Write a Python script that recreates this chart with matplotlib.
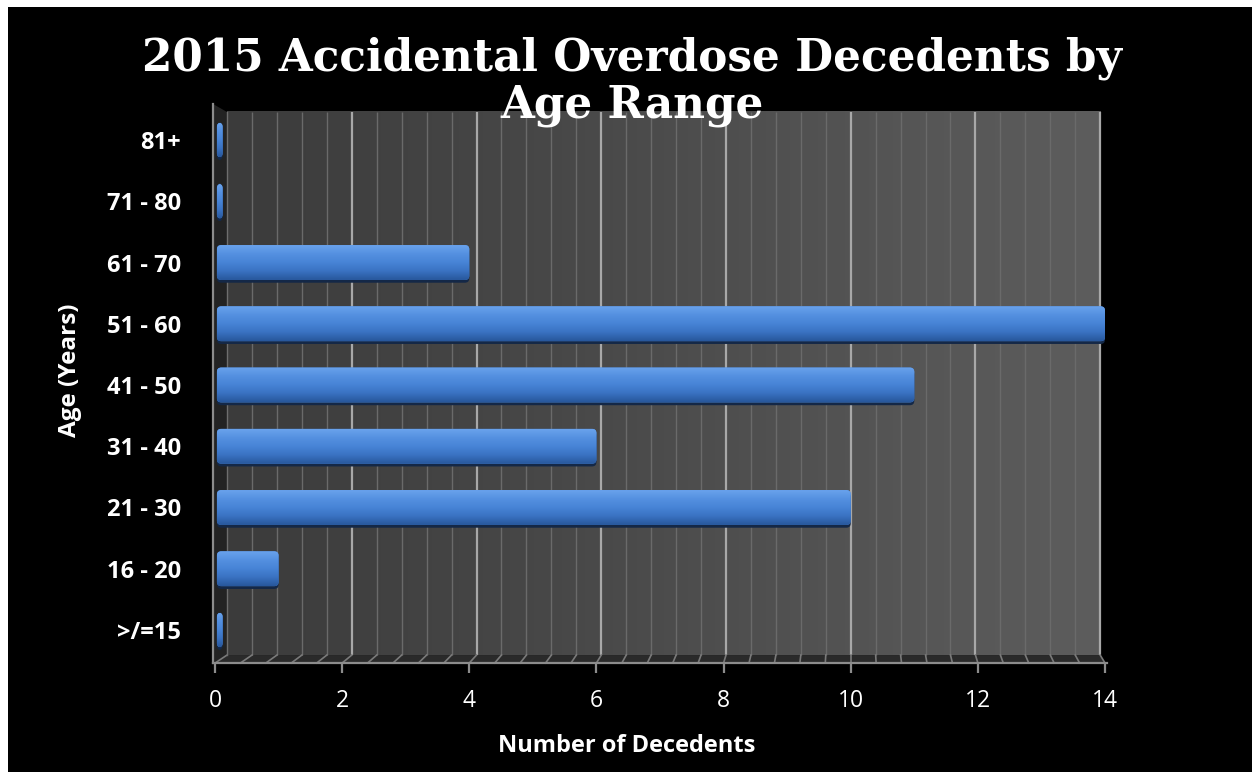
import numpy as np
import matplotlib
matplotlib.use("Agg")
import matplotlib.pyplot as plt
from matplotlib.patches import FancyBboxPatch, Polygon, Rectangle
from matplotlib.colors import LinearSegmentedColormap

age_ranges = [">/=15", "16 - 20", "21 - 30", "31 - 40", "41 - 50",
              "51 - 60", "61 - 70", "71 - 80", "81+"]
decedents = [0, 1, 10, 6, 11, 14, 4, 0, 0]
x_ticks = [0, 2, 4, 6, 8, 10, 12, 14]

title = "2015 Accidental Overdose Decedents by\nAge Range"
x_title = "Number of Decedents"
y_title = "Age (Years)"

# fake 3d depth of the back wall, in data units
DEPTH_X = 0.19
DEPTH_Y = 0.13
WALL_SCALE = 0.981
BAR_H = 0.57

SANS = ["Open Sans", "DejaVu Sans"]


def wall_x(v):
  return DEPTH_X + v * WALL_SCALE


def main():
  fig = plt.figure(figsize=(12.52, 7.72), dpi=100, facecolor="white")
  # black card with a thin white margin on the top and left
  fig.add_artist(Rectangle((8 / 1252, 0), 1, 1 - 7 / 772, transform=fig.transFigure,
                           facecolor="black", edgecolor="none", zorder=-10))

  ax = fig.add_axes([215 / 1252, (772 - 663) / 772, 890 / 1252, 559 / 772])
  ax.patch.set_visible(False)

  n = len(age_ranges)
  y_pos = np.arange(n)
  y_bot, y_top = -0.539, 8.588
  x_max = 14
  wall_bot = y_bot + DEPTH_Y
  wall_top = 8.457

  # back wall with a horizontal gradient
  wall_cmap = LinearSegmentedColormap.from_list("wall", ["#3b3b3b", "#5d5d5d"])
  ax.imshow(np.linspace(0, 1, 256).reshape(1, -1), cmap=wall_cmap, aspect="auto",
            extent=(wall_x(0), wall_x(x_max), wall_bot, wall_top), zorder=0)

  # floor and left side wall
  ax.add_patch(Polygon([(0, y_bot), (x_max, y_bot), (wall_x(x_max), wall_bot),
                        (wall_x(0), wall_bot)], closed=True,
                       facecolor="#2a2a2a", edgecolor="none", zorder=1, clip_on=False))
  ax.add_patch(Polygon([(-0.03, y_bot), (wall_x(0), wall_bot), (wall_x(0), wall_top),
                        (-0.03, y_top)], closed=True,
                       facecolor="#232323", edgecolor="none", zorder=1, clip_on=False))

  # gridlines on the wall, carried onto the floor
  for v in np.arange(0, x_max + 0.001, 0.4):
    major = abs(v / 2 - round(v / 2)) < 1e-6
    col = "#a8a8a8" if major else "#6a6a6a"
    lw = 1.6 if major else 1.0
    if v > 0:
      ax.plot([wall_x(v), wall_x(v)], [wall_bot, wall_top], color=col, lw=lw,
              zorder=2, solid_capstyle="butt")
    ax.plot([v, wall_x(v)], [y_bot, wall_bot], color="#7a7a7a", lw=1.2, zorder=2,
            clip_on=False)
  ax.plot([wall_x(0), wall_x(0)], [wall_bot, wall_top], color="#6e6e6e", lw=1.0, zorder=2)

  # bars
  bar_cmap = LinearSegmentedColormap.from_list(
      "bar", ["#28589c", "#3a72c2", "#4784d6", "#5490e0", "#69a2ec"])
  grad = np.linspace(0, 1, 64).reshape(-1, 1)
  pad = 0.07
  for y, v in zip(y_pos, decedents):
    x0 = 0.03
    w = max(v - x0, 0.09)
    shadow = FancyBboxPatch((x0 + pad, y - BAR_H / 2 + pad - 0.045), w - 2 * pad,
                            BAR_H - 2 * pad, boxstyle="round,pad=%g" % pad,
                            facecolor="#142847", edgecolor="none", zorder=3)
    ax.add_patch(shadow)
    face = FancyBboxPatch((x0 + pad, y - BAR_H / 2 + pad), w - 2 * pad,
                          BAR_H - 2 * pad, boxstyle="round,pad=%g" % pad,
                          facecolor="#4a86d8", edgecolor="none", zorder=4)
    ax.add_patch(face)
    im = ax.imshow(grad, cmap=bar_cmap, aspect="auto", origin="lower",
                   extent=(x0, x0 + w, y - BAR_H / 2, y + BAR_H / 2), zorder=5)
    im.set_clip_path(face)

  ax.set_xlim(0, x_max)
  ax.set_ylim(y_bot, y_top)

  for side in ("top", "right"):
    ax.spines[side].set_visible(False)
  for side in ("bottom", "left"):
    ax.spines[side].set_color("#8c8c8c")
    ax.spines[side].set_linewidth(1.6)
  ax.spines["bottom"].set_bounds(-0.03, x_max + 0.03)
  ax.spines["left"].set_position(("data", -0.03))

  ax.set_xticks(x_ticks)
  ax.set_xticklabels([str(t) for t in x_ticks], family=SANS, fontsize=16.5, color="white")
  ax.tick_params(axis="x", colors="#8c8c8c", length=7, width=1.6, pad=12,
                 labelcolor="white")
  ax.set_yticks(y_pos)
  ax.set_yticklabels(age_ranges, family=SANS, fontsize=17, fontweight="bold",
                     color="white")
  ax.tick_params(axis="y", length=0, pad=23, labelcolor="white")

  fig.text(627 / 1252, 1 - 746 / 772, x_title, ha="center", va="center", color="white",
           family=SANS, fontsize=17, fontweight="bold")
  fig.text(70 / 1252, 1 - 370 / 772, y_title, ha="center", va="center", color="white",
           family=SANS, fontsize=17.5, fontweight="bold", rotation=90)

  fig.text(632 / 1252, 1 - 36 / 772, title, ha="center", va="top", color="white",
           family="DejaVu Serif", fontsize=31.5, fontweight="bold", linespacing=1.12,
           zorder=20)

  fig.savefig("out.png", dpi=100, facecolor=fig.get_facecolor())


if __name__ == "__main__":
  main()
